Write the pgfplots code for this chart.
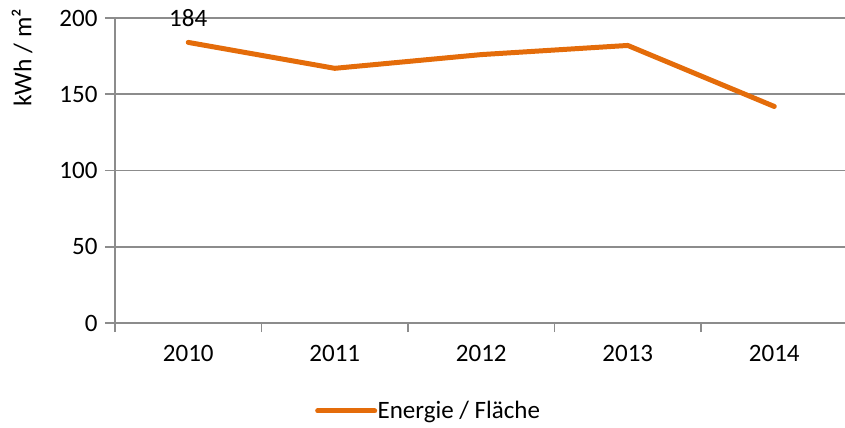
\documentclass[border=0pt]{standalone}
\usepackage{pgfplots}
\pgfplotsset{compat=1.18}
\usepackage{fontspec}
\setmainfont{Carlito}
\definecolor{excelorange}{HTML}{E46C0A}
\definecolor{gridgray}{HTML}{8C8C8C}
\begin{document}
\begin{tikzpicture}
\path[use as bounding box] (-115bp,-105bp) rectangle (730bp,323bp);
\begin{axis}[
  scale only axis,
  width=732.5bp, height=305bp,
  at={(0,0)}, anchor=south west,
  xmin=-0.5, xmax=4.5, ymin=0, ymax=200,
  clip=false,
  axis lines*=left,
  axis line style={gridgray, line width=1.5bp},
  tick align=outside,
  xtick={0,1,2,3,4},
  xticklabels={2010,2011,2012,2013,2014},
  minor xtick={-0.5,0.5,1.5,2.5,3.5,4.5},
  major x tick style={draw=none},
  minor x tick style={gridgray, line width=1.5bp},
  minor tick length=9bp,
  ytick={0,50,100,150,200},
  major y tick style={gridgray, line width=1.5bp},
  major tick length=10bp,
  ymajorgrids,
  major grid style={gridgray, line width=1.5bp},
  tick label style={font=\fontsize{25bp}{29bp}\selectfont},
  /pgf/number format/assume math mode=true,
  yticklabel style={anchor=east, xshift=-4bp},
  xticklabel style={anchor=center, yshift=-20bp},
  ylabel={kWh / m²},
  ylabel style={font=\fontsize{25.5bp}{29bp}\selectfont, at={(axis description cs:-0.127,0.869)}, anchor=center},
  legend style={draw=none, fill=none, at={(axis description cs:0.273,-0.2885)}, anchor=west, inner sep=0pt,
    nodes={inner xsep=0.5bp},
    font=\fontsize{25bp}{29bp}\selectfont},
  legend image code/.code={\draw[#1] (0bp,0bp) -- (57bp,0bp);},
]
\addplot[excelorange, line width=5bp, line cap=round, line join=round] coordinates {
  (0,184) (1,167) (2,176) (3,182) (4,142)
};
\addlegendentry{Energie / Fläche}
\node[font=\fontsize{25bp}{29bp}\selectfont, anchor=center, yshift=24bp] at (axis cs:0,184) {184};
\end{axis}
\end{tikzpicture}
\end{document}
